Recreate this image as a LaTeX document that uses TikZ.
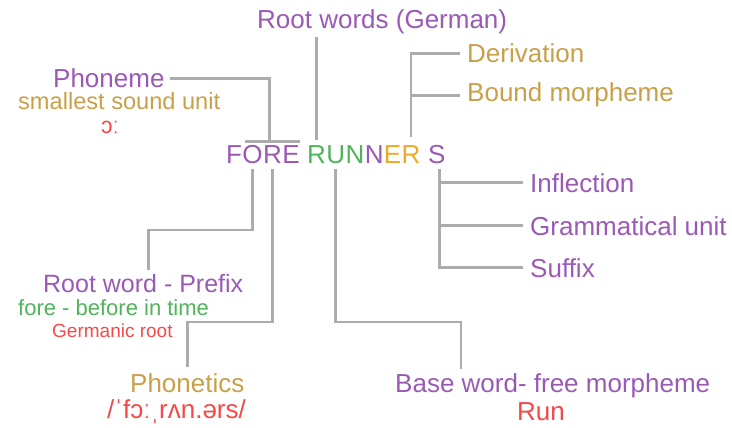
\documentclass[tikz,border=0pt]{standalone}
\usepackage{fontspec}
\setmainfont{Liberation Sans}
\usetikzlibrary{positioning}

\definecolor{wpurple}{RGB}{155,89,182}
\definecolor{wgold}{RGB}{201,160,72}
\definecolor{worange}{RGB}{240,168,40}
\definecolor{wgreen}{RGB}{80,180,90}
\definecolor{wred}{RGB}{245,72,72}
\definecolor{wline}{RGB}{172,172,172}

\tikzset{
	lbl/.style={inner sep=0pt, font=\fontsize{26}{30}\selectfont},
	ltr/.style={inner sep=0pt, font=\fontsize{26}{30}\selectfont, text height=18.6pt, text depth=0pt},
	conn/.style={draw=wline, line width=2.8pt},
}

\begin{document}
\begin{tikzpicture}[x=1pt,y=-1pt]
			\useasboundingbox (0,0) rectangle (732,428);
			% the word, letter by letter
			\node[ltr,text=wpurple,anchor=base west] (lF) at (226,164) {F};
			\node[ltr,text=wpurple,right=0pt of lF] (lO) {O};
			\node[ltr,text=wpurple,right=0pt of lO] (lR) {R};
			\node[ltr,text=wpurple,right=0pt of lR] (lE) {E};
			\node[ltr,text=wgreen,right=7.2pt of lE] (lR1) {R};
			\node[ltr,text=wgreen,right=0pt of lR1] (lU) {U};
			\node[ltr,text=wgreen,right=0pt of lU] (lN1) {N};
			\node[ltr,text=wpurple,right=0pt of lN1] (lN2) {N};
			\node[ltr,text=worange,right=0pt of lN2] (lE1) {E};
			\node[ltr,text=worange,right=0pt of lE1] (lR2) {R};
			\node[ltr,text=wpurple,right=7.2pt of lR2] (lS) {S};
			% labels
			\node[lbl,text=wpurple,anchor=base west] (rootg) at (257,29) {Root words (German)};
			\node[lbl,text=wgold,anchor=base west] (deriv) at (467,63) {Derivation};
			\node[lbl,text=wgold,anchor=base west] (bound) at (467,102) {Bound morpheme};
			\node[lbl,text=wpurple,anchor=base west] (phon) at (53,88) {Phoneme};
			\node[lbl,font=\fontsize{23.6}{27}\selectfont,text=wgold,anchor=base west] (sound) at (18,110) {smallest sound unit};
			\node[lbl,font=\fontsize{23}{27}\selectfont,text=wred] (open) at (110,127) {ɔː};
			\node[lbl,text=wpurple,anchor=base west] (infl) at (530,192) {Inflection};
			\node[lbl,text=wpurple,anchor=base west] (gram) at (530,235) {Grammatical unit};
			\node[lbl,text=wpurple,anchor=base west] (suff) at (530,277) {Suffix};
			\node[lbl,font=\fontsize{25}{29}\selectfont,text=wpurple,anchor=base west] (prefix) at (43,292) {Root word - Prefix};
			\node[lbl,font=\fontsize{22}{26}\selectfont,text=wgreen,anchor=base west] (fore) at (18,315) {fore - before in time};
			\node[lbl,font=\fontsize{19}{22}\selectfont,text=wred,anchor=base west] (germ) at (52,337) {Germanic root};
			\node[lbl,text=wgold,anchor=base west] (phonet) at (130,392) {Phonetics};
			\node[lbl,font=\fontsize{26}{30}\selectfont,text=wred,anchor=base west] (ipa) at (107,418) {/ˈfɔːˌrʌn.ərs/};
			\node[lbl,text=wpurple,anchor=base west] (base) at (395,392) {Base word- free morpheme};
			\node[lbl,text=wred,anchor=base west] (run) at (517,420) {Run};
			% connectors above the word
			\draw[conn] ([yshift=5pt]lR1.north) -- ([yshift=-2.5pt]lR1.north |- rootg.south);
			\draw[conn] ([yshift=8pt]lR2.north) |- ([xshift=-7pt]deriv.west);
			\draw[conn] (lR2.north |- bound.west) -- ([xshift=-7pt]bound.west);
			\draw[conn] ([xshift=3pt,yshift=3.5pt]lO.north west) -- ([yshift=3.5pt]lE.north east);
			\draw[conn] ([xshift=5pt]phon.east) -| ([xshift=-3pt,yshift=3.5pt]lR.north);
			% connectors below the word
			\coordinate (sFoot) at ([xshift=3pt,yshift=-5pt]lS.south);
			\draw[conn] (sFoot) |- ([xshift=-7pt]suff.west);
			\draw[conn] (sFoot |- infl.west) -- ([xshift=-7pt]infl.west);
			\draw[conn] (sFoot |- gram.west) -- ([xshift=-7pt]gram.west);
			\draw[conn] ([yshift=-5pt]lO.south) -- (lO.south |- 0,230) -| ([xshift=5pt,yshift=4pt]prefix.north);
			\draw[conn] ([yshift=-5pt]lR.south) -- (lR.south |- 0,322) -| ([yshift=5.5pt]phonet.north);
			\draw[conn] ([yshift=-5pt]lU.south) -- (lU.south |- 0,322) -| ([xshift=66pt,yshift=4pt]base.north west);
		\end{tikzpicture}
\end{document}
